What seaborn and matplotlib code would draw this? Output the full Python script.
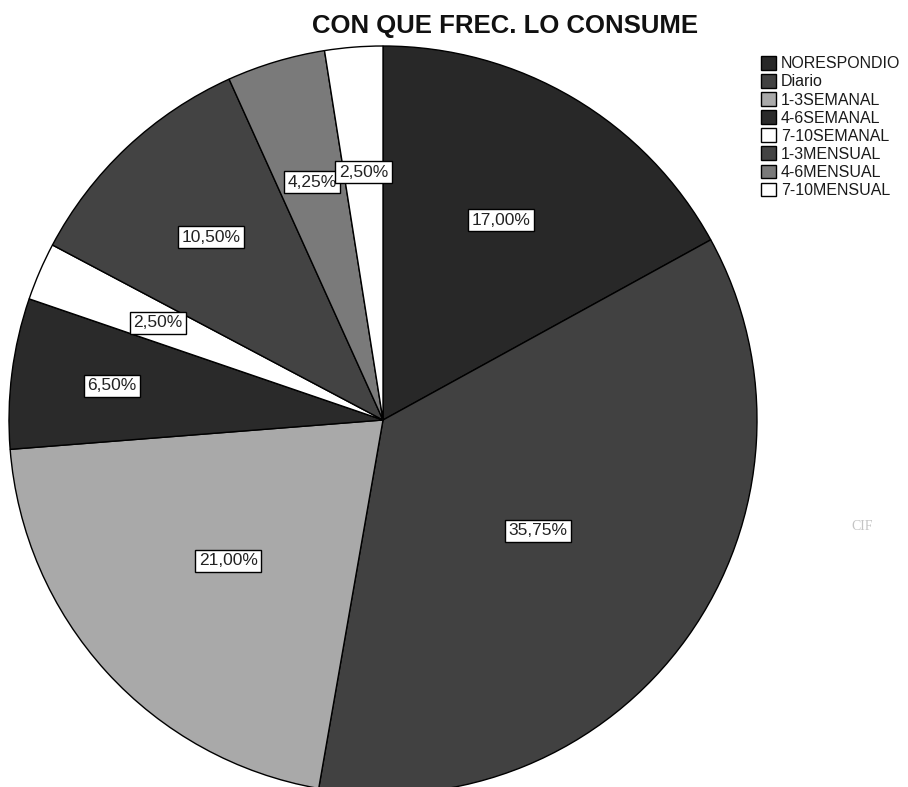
import numpy as np
import matplotlib
matplotlib.use("Agg")
import matplotlib.pyplot as plt
import seaborn as sns

# Survey answers: how often the product is consumed
categories = ["NORESPONDIO", "Diario", "1-3SEMANAL", "4-6SEMANAL",
              "7-10SEMANAL", "1-3MENSUAL", "4-6MENSUAL", "7-10MENSUAL"]
percentages = [17.00, 35.75, 21.00, 6.50, 2.50, 10.50, 4.25, 2.50]

slice_colors = ["#282828", "#414141", "#a9a9a9", "#2a2a2a",
                "#ffffff", "#434343", "#7a7a7a", "#ffffff"]
# radial position of each percentage tag (fraction of the radius)
tag_dist = [0.62, 0.51, 0.56, 0.73, 0.655, 0.67, 0.663, 0.665]

sns.set_theme(style="white")
plt.rcParams["font.family"] = ["Liberation Sans", "DejaVu Sans"]

W, H, DPI = 908, 787, 100
fig = plt.figure(figsize=(W / DPI, H / DPI), dpi=DPI)
ax = fig.add_axes([0, 0, 1, 1])

wedges, _ = ax.pie(
    percentages,
    colors=slice_colors,
    startangle=90,
    counterclock=False,
    radius=1.0,
    wedgeprops=dict(edgecolor="black", linewidth=1.0),
)

# place the pie: centre at (383, 420) px from top-left, radius 374 px
R, cx, cy = 374.0, 383.0, 420.0
ax.set_xlim(-cx / R, (W - cx) / R)
ax.set_ylim(-(H - cy) / R, cy / R)
ax.set_aspect("equal")
ax.axis("off")

for w, v, d in zip(wedges, percentages, tag_dist):
    ang = np.deg2rad((w.theta1 + w.theta2) / 2.0)
    ax.text(d * np.cos(ang), d * np.sin(ang),
            f"{v:.2f}%".replace(".", ","),
            ha="center", va="center", fontsize=12.5, color="#222222",
            bbox=dict(boxstyle="square,pad=0.2", fc="white",
                      ec="black", lw=1.0))

fig.text(505.5 / W, 1 - 26 / H, "CON QUE FREC. LO CONSUME",
         ha="center", va="center", fontsize=18.5, fontweight="bold",
         color="#111111")

fig.legend(wedges, categories, loc="upper left",
           bbox_to_anchor=(761 / W, 1 - 56 / H),
           frameon=False, fontsize=11.5, handlelength=0.95,
           handleheight=0.95, handletextpad=0.3, labelspacing=0.17,
           borderpad=0, borderaxespad=0, labelcolor="#1a1a1a")

# faint stamp at the right margin
fig.text(862 / W, 1 - 527 / H, "CIF", ha="center", va="center",
         fontsize=10, color="#c4c4c4", family="Liberation Serif")

fig.savefig("out.png", dpi=DPI)
